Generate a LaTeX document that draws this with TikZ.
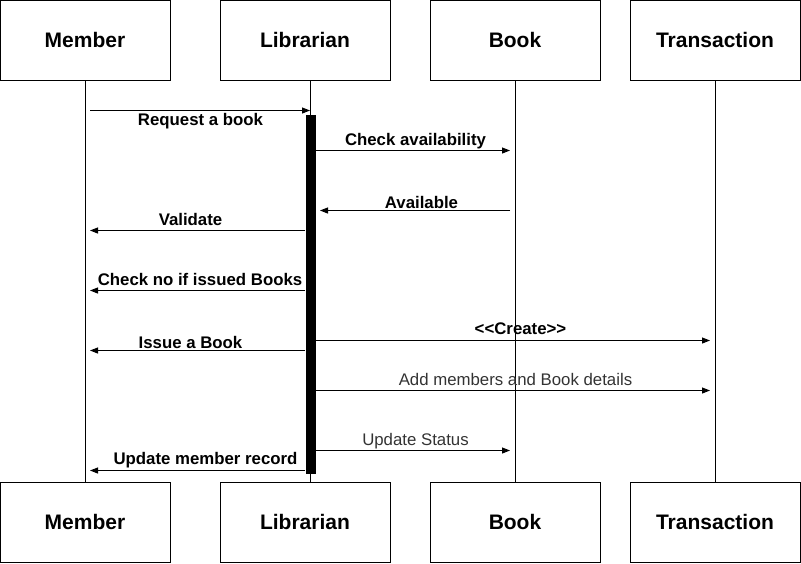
\documentclass[tikz,border=0pt]{standalone}
\usepackage{fontspec}
\setmainfont{Liberation Sans}
\usetikzlibrary{arrows.meta,positioning,calc}

\begin{document}
\begin{tikzpicture}[x=1pt,y=-1pt,line width=1pt,
  objbox/.style={draw,minimum width=170pt,minimum height=80pt,inner sep=0pt,
    font=\fontsize{21}{24}\selectfont\bfseries},
  actbar/.style={fill=black,draw=none,minimum width=10pt,minimum height=359pt,inner sep=0pt},
  msg/.style={-{Triangle[length=8pt,width=6pt]}},
  msglbl/.style={font=\fontsize{16.8}{19}\selectfont\bfseries,inner sep=0pt,yshift=-1.5pt},
  msgtxt/.style={font=\fontsize{16.8}{19}\selectfont,text=black!80,inner sep=0pt,yshift=-1pt}]
\useasboundingbox (0,0) rectangle (801,563);
% objects, top and bottom
\node[objbox] (mem) at (85,40) {Member};
\node[objbox] (lib) at (305,40) {Librarian};
\node[objbox] (book) at (515,40) {Book};
\node[objbox] (trans) at (715,40) {Transaction};
\node[objbox] (mem2) at (85,522) {Member};
\node[objbox] (lib2) at (305,522) {Librarian};
\node[objbox] (book2) at (515,522) {Book};
\node[objbox] (trans2) at (715,522) {Transaction};
% lifelines
\draw (mem.south) -- (mem2.north);
\draw ([xshift=5pt]lib.south) -- ([xshift=5pt]lib2.north);
\draw (book.south) -- (book2.north);
\draw (trans.south) -- (trans2.north);
\node[actbar] (act) at (310.5,294.5) {};
% messages
\foreach \nm/\xa/\xb/\y in {req/90/310/110.5, chk/316/510/150.5, avl/510/320/210.5,
    val/305/90/230.5, iss/305/90/290.5, crt/316/710/340.5, ibk/305/90/350.5,
    add/316/710/390.5, ups/316/510/450.5, umr/305/90/470.5}{
  \coordinate (\nm-s) at (\xa,\y);
  \coordinate (\nm-e) at (\xb,\y);
  \draw[msg] (\nm-s) -- (\nm-e);
}
% labels
\node[msglbl] (req-l) at (200.5,120) {Request a book};
\node[msglbl] (chk-l) at (415.5,140) {Check availability};
\node[msglbl] (avl-l) at (421.5,201) {Available};
\node[msglbl] (val-l) at (190.5,218) {Validate};
\node[msglbl] (iss-l) at (200,278) {Check no if issued Books};
\node[msglbl] (crt-l) at (520.5,327) {<{}<Create>{}>};
\node[msglbl] (ibk-l) at (190.5,341) {Issue a Book};
\node[msgtxt] (add-l) at (515.5,378) {Add members and Book details};
\node[msgtxt] (ups-l) at (415.5,440) {Update Status};
\node[msglbl] (umr-l) at (205.5,459) {Update member record};
\end{tikzpicture}
\end{document}
